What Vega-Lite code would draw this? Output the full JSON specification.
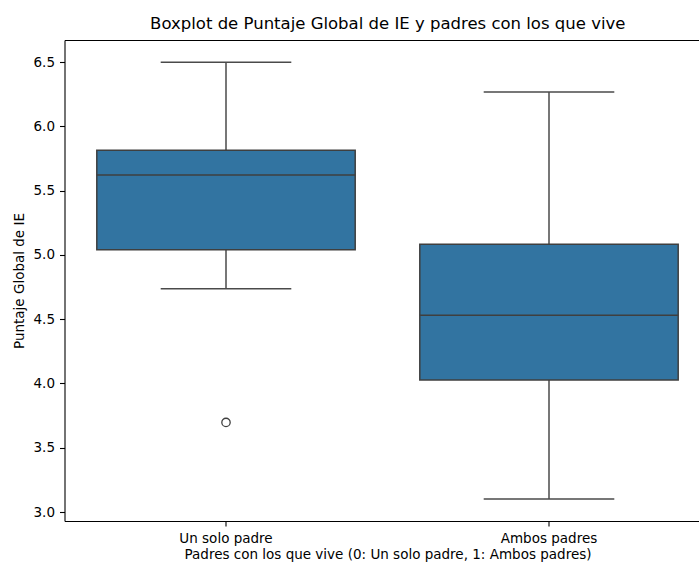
{
  "$schema": "https://vega.github.io/schema/vega-lite/v6.json",
  "autosize": "none",
  "padding": {"left": 64.5, "top": 40, "right": 0, "bottom": 44},
  "width": 634.5,
  "height": 481,
  "background": "white",
  "title": {
    "text": "Boxplot de Puntaje Global de IE y padres con los que vive",
    "font": "DejaVu Sans",
    "fontSize": 16.5,
    "fontWeight": "normal",
    "color": "black",
    "anchor": "middle",
    "dx": 6,
    "offset": 8
  },
  "config": {
    "view": {"stroke": null},
    "axis": {
      "grid": false,
      "domainColor": "black",
      "domainWidth": 1.1,
      "tickColor": "black",
      "tickWidth": 1.1,
      "tickSize": 5,
      "labelPadding": 5,
      "labelFont": "DejaVu Sans",
      "labelFontSize": 13.5,
      "labelColor": "black",
      "titleFont": "DejaVu Sans",
      "titleFontSize": 13.5,
      "titleFontWeight": "normal",
      "titleColor": "black"
    }
  },
  "datasets": {
    "cajas": [
      {"grupo": "Un solo padre", "minimo": 4.737, "q1": 5.04, "mediana": 5.623, "q3": 5.816, "maximo": 6.5},
      {"grupo": "Ambos padres", "minimo": 3.101, "q1": 4.027, "mediana": 4.532, "q3": 5.084, "maximo": 6.269}
    ],
    "atipicos": [
      {"grupo": "Un solo padre", "valor": 3.697}
    ]
  },
  "resolve": {"axis": {"x": "independent"}},
  "layer": [
    {
      "data": {"name": "cajas"},
      "encoding": {
        "x": {
          "field": "grupo",
          "type": "nominal",
          "scale": {"type": "band", "domain": ["Un solo padre", "Ambos padres"], "range": [0, 646], "paddingInner": 0, "paddingOuter": 0},
          "axis": {"orient": "bottom", "title": "Padres con los que vive (0: Un solo padre, 1: Ambos padres)", "labelAngle": 0, "titlePadding": 3, "titleAnchor": "start", "titleX": 323, "titleAlign": "center"}
        }
      },
      "layer": [
        {
          "mark": {"type": "rule", "color": "#4a4a4a", "strokeWidth": 1.5},
          "encoding": {
            "y": {
              "field": "minimo",
              "type": "quantitative",
              "scale": {"domain": [2.93, 6.673], "nice": false, "zero": false},
              "axis": {"title": "Puntaje Global de IE", "values": [3, 3.5, 4, 4.5, 5, 5.5, 6, 6.5], "format": ".1f", "titlePadding": 7}
            },
            "y2": {"field": "q1"}
          }
        },
        {
          "mark": {"type": "rule", "color": "#4a4a4a", "strokeWidth": 1.5},
          "encoding": {
            "y": {"field": "q3", "type": "quantitative"},
            "y2": {"field": "maximo"}
          }
        },
        {
          "mark": {"type": "tick", "color": "#4a4a4a", "thickness": 1.5, "size": 130.6, "opacity": 1},
          "encoding": {"y": {"field": "minimo", "type": "quantitative"}}
        },
        {
          "mark": {"type": "tick", "color": "#4a4a4a", "thickness": 1.5, "size": 130.6, "opacity": 1},
          "encoding": {"y": {"field": "maximo", "type": "quantitative"}}
        },
        {
          "mark": {"type": "bar", "fill": "#3274a1", "stroke": "#3f3f3f", "strokeWidth": 1.5, "width": {"band": 0.8}, "opacity": 1},
          "encoding": {
            "y": {"field": "q1", "type": "quantitative"},
            "y2": {"field": "q3"}
          }
        },
        {
          "mark": {"type": "tick", "color": "#3f3f3f", "thickness": 1.5, "size": 258.4, "opacity": 1},
          "encoding": {"y": {"field": "mediana", "type": "quantitative"}}
        }
      ]
    },
    {
      "data": {"name": "atipicos"},
      "mark": {"type": "point", "shape": "circle", "filled": false, "stroke": "#3f3f3f", "strokeWidth": 1.3, "size": 70, "opacity": 1},
      "encoding": {
        "x": {
          "field": "grupo",
          "type": "nominal",
          "axis": {"orient": "top", "title": null, "labels": false, "ticks": false, "domain": true}
        },
        "y": {"field": "valor", "type": "quantitative"}
      }
    }
  ]
}
